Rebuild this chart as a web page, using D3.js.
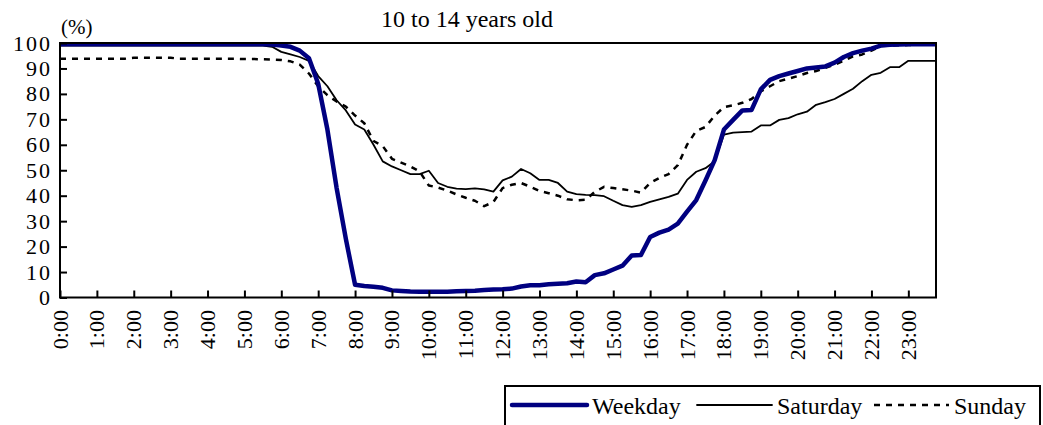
<!DOCTYPE html>
<html>
<head>
<meta charset="utf-8">
<style>
    body { margin: 0; background: #fff; }
    svg { display: block; font-family: 'Liberation Serif', 'Times New Roman', serif; }
</style>
</head>
<body>
<svg width="1043" height="425"></svg>
<script src="https://d3js.org/d3.v7.min.js"></script>
<script>
    // 96 quarter-hour slots, 0:00 .. 23:45
    let hourLabels = d3.range(24).map(h => h + ":00")

    let weekday = [
        99.5, 99.5, 99.5, 99.5, 99.5, 99.5, 99.5, 99.5, 99.5, 99.5, 99.5, 99.5,
        99.5, 99.5, 99.5, 99.5, 99.5, 99.5, 99.5, 99.5, 99.5, 99.5, 99.5, 99.4,
        99, 98.5, 97, 94, 84, 66, 43, 23, 5, 4.5, 4.2, 3.8,
        2.8, 2.6, 2.4, 2.3, 2.3, 2.3, 2.3, 2.5, 2.6, 2.7, 2.9, 3.1,
        3.2, 3.5, 4.3, 4.8, 4.8, 5.2, 5.4, 5.6, 6.3, 6.0, 8.8, 9.5,
        11, 12.5, 16.5, 16.7, 23.8, 25.5, 26.7, 29, 33.7, 38.3, 46, 54,
        66, 69.8, 73.5, 73.7, 81.8, 85.5, 87, 88, 89, 90, 90.4, 90.8,
        92.3, 94.5, 96, 97, 97.8, 99, 99.3, 99.4, 99.5, 99.5, 99.5, 99.5
    ]

    let saturday = [
        99, 99, 99, 99, 99, 99, 99, 99, 99, 99, 99, 99,
        99, 99, 99, 99, 99, 99, 99, 99, 99, 99, 99, 98.5,
        96.5, 95.5, 94.5, 93, 87, 83, 77.5, 73.5, 68, 66, 60, 53.5,
        51.5, 50, 48.5, 48.5, 49.8, 45, 43.5, 42.8, 42.6, 42.9, 42.5, 41.6,
        46, 47.5, 50.5, 48.8, 46.2, 46.2, 45, 41.6, 40.6, 40.3, 40.2, 39.8,
        38, 36.3, 35.6, 36.3, 37.6, 38.6, 39.5, 40.8, 46.2, 49.4, 50.8, 53.5,
        64, 64.8, 65, 65.2, 67.6, 67.6, 69.8, 70.5, 72, 73, 75.7, 76.8,
        78, 80, 82, 85, 87.5, 88.3, 90.5, 90.5, 93, 93, 93, 93
    ]

    let sunday = [
        93.8, 93.8, 93.8, 93.8, 93.8, 93.8, 93.8, 93.8, 94.2, 94.2, 94.2, 94.2,
        94.2, 93.8, 93.8, 93.8, 93.8, 93.8, 93.8, 93.8, 93.7, 93.7, 93.6, 93.5,
        93.3, 92.8, 91.5, 88, 83, 79.5, 77, 75, 71.5, 68.5, 61.5, 59.5,
        54.5, 53, 51.5, 49.5, 44, 43.2, 42, 40.5, 39.2, 38, 35.9, 37.5,
        43, 44.3, 45, 43.5, 41.8, 41, 40, 38.6, 38.2, 38.4, 41.5, 43.5,
        43, 42.5, 42, 41.2, 45, 47, 48.5, 52, 60, 65.5, 67, 71.5,
        74.8, 75.5, 76.5, 78, 81, 83, 85, 86, 87, 88.2, 89, 90.2,
        91.5, 93, 94.7, 95.5, 97, 98.8, 99, 99.1, 99.2, 99.3, 99.3, 99.3
    ]

    let yTicks = d3.range(0, 101, 10)

    let series = [
        { name: "Weekday", values: weekday, color: "#000080", width: 4.5, dash: null },
        { name: "Saturday", values: saturday, color: "#000", width: 1.8, dash: null },
        { name: "Sunday", values: sunday, color: "#000", width: 2.5, dash: "6,6" }
    ]

    let svg = d3.select("svg")

    let plotLeft = 60, plotRight = 936, plotTop = 43, plotBottom = 297.5

    let x = d3.scaleLinear()
        .domain([0, 95])
        .range([plotLeft, plotRight])

    let y = d3.scaleLinear()
        .domain([0, 100])
        .range([plotBottom, plotTop])

    // title and unit
    svg.append("text")
        .attr("x", 467)
        .attr("y", 27)
        .attr("text-anchor", "middle")
        .style("font-size", "24px")
        .text("10 to 14 years old")

    svg.append("text")
        .attr("x", 61)
        .attr("y", 34)
        .style("font-size", "21px")
        .text("(%)")

    // lines
    let line = d3.line()
        .x((d, i) => x(i))
        .y(d => y(d))

    svg.selectAll(".series")
        .data(series.slice().reverse())
        .join("path")
        .attr("class", "series")
        .attr("d", d => line(d.values))
        .style("fill", "none")
        .style("stroke", d => d.color)
        .style("stroke-width", d => d.width)
        .style("stroke-dasharray", d => d.dash)
        .style("stroke-linejoin", "round")

    // frame
    svg.append("rect")
        .attr("x", plotLeft)
        .attr("y", plotTop)
        .attr("width", plotRight - plotLeft)
        .attr("height", plotBottom - plotTop)
        .style("fill", "none")
        .style("stroke", "#000")
        .style("stroke-width", 2)

    // y axis: inner ticks + labels
    let yAxis = d3.axisRight(y)
        .tickValues(yTicks)
        .tickSize(7)
        .tickFormat("")

    svg.append("g")
        .attr("transform", `translate(${plotLeft},0)`)
        .call(yAxis)
        .call(g => g.select(".domain").remove())
        .call(g => g.selectAll("line").style("stroke", "#000").style("stroke-width", 2))

    svg.selectAll(".ylab")
        .data(yTicks)
        .join("text")
        .attr("class", "ylab")
        .attr("x", 52)
        .attr("y", d => y(d) + 7.5)
        .attr("text-anchor", "end")
        .style("font-size", "22px")
        .style("letter-spacing", "2px")
        .text(d => d)

    // x axis: hourly inner ticks + rotated labels
    let xAxis = d3.axisTop(x)
        .tickValues(d3.range(0, 96, 4))
        .tickSize(7)
        .tickFormat("")

    svg.append("g")
        .attr("transform", `translate(0,${plotBottom})`)
        .call(xAxis)
        .call(g => g.select(".domain").remove())
        .call(g => g.selectAll("line").style("stroke", "#000").style("stroke-width", 2))

    svg.selectAll(".xlab")
        .data(hourLabels)
        .join("text")
        .attr("class", "xlab")
        .attr("text-anchor", "end")
        .attr("transform", (d, i) => `translate(${x(i * 4) + 7.5},310) rotate(-90)`)
        .style("font-size", "22px")
        .text(d => d)

    // legend
    let legend = svg.append("g")

    legend.append("rect")
        .attr("x", 505)
        .attr("y", 386)
        .attr("width", 535)
        .attr("height", 50)
        .style("fill", "#fff")
        .style("stroke", "#000")
        .style("stroke-width", 2)

    let legX = [512, 697, 874]

    series.forEach((s, i) => {
        legend.append("line")
            .attr("x1", legX[i])
            .attr("x2", legX[i] + 75)
            .attr("y1", 405)
            .attr("y2", 405)
            .style("stroke", s.color)
            .style("stroke-width", s.width)
            .style("stroke-dasharray", s.dash)
            .style("stroke-linecap", s.dash ? "butt" : "round")

        legend.append("text")
            .attr("x", legX[i] + 80)
            .attr("y", 414)
            .style("font-size", "24px")
            .text(s.name)
    })
</script>
</body>
</html>
